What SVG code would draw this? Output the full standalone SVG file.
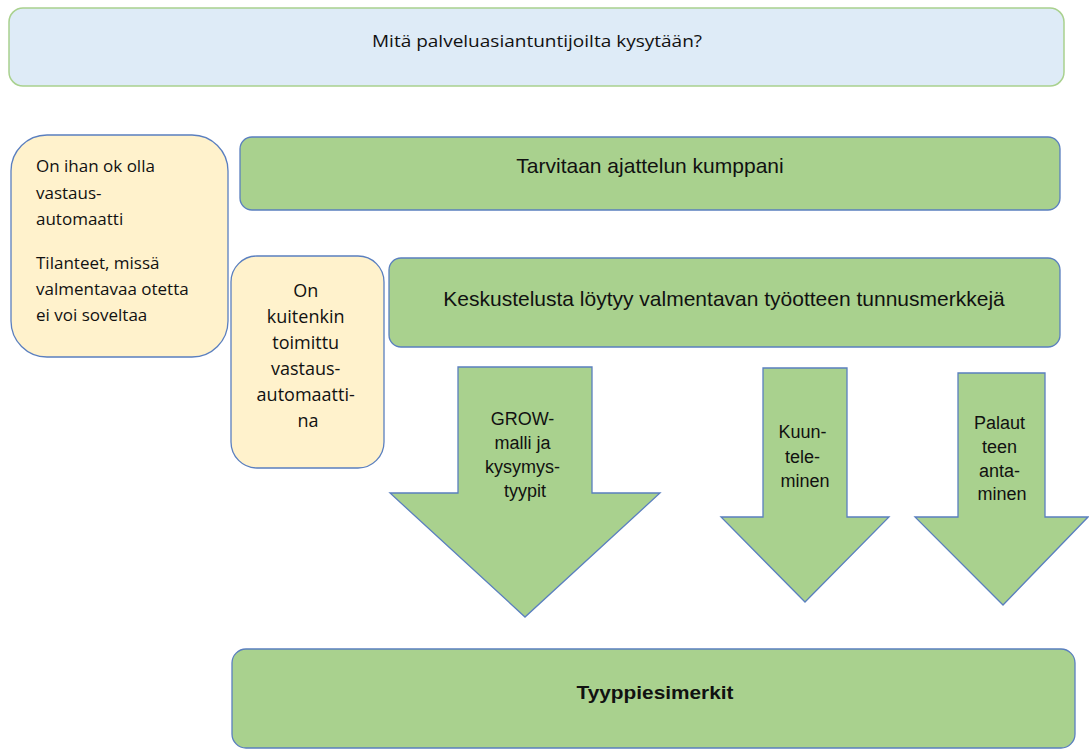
<svg xmlns="http://www.w3.org/2000/svg" width="1089" height="749" viewBox="0 0 1089 749">
<style>
.g{fill:#a9d18e;stroke:#5a7fbf;stroke-width:1.3}
.y{fill:#fff2cc;stroke:#5a7fbf;stroke-width:1.3}
.t{font-family:"Liberation Sans",Arial,sans-serif;fill:#111}
.s{font-family:"Open Sans","Noto Sans",sans-serif;fill:#111}
</style>
<rect width="1089" height="749" fill="#fff"/>
<g id="top">
<rect x="9" y="8" width="1055" height="78" rx="14" fill="#deebf7" stroke="#a9d18e" stroke-width="1.5"/>
<text class="s" x="537" y="47" font-size="17" text-anchor="middle" textLength="330" lengthAdjust="spacingAndGlyphs">Mitä palveluasiantuntijoilta kysytään?</text>
</g>
<g id="yellow1">
<rect class="y" x="11" y="135" width="217" height="222" rx="36"/>
<text class="s" font-size="17">
<tspan x="36" y="172">On ihan ok olla</tspan>
<tspan x="36" y="199">vastaus-</tspan>
<tspan x="36" y="225">automaatti</tspan>
<tspan x="36" y="269">Tilanteet, missä</tspan>
<tspan x="36" y="295">valmentavaa otetta</tspan>
<tspan x="36" y="321">ei voi soveltaa</tspan>
</text>
</g>
<g id="yellow2">
<rect class="y" x="231" y="256" width="153" height="212" rx="26"/>
<text class="s" font-size="18" text-anchor="middle">
<tspan x="308" y="297">On</tspan>
<tspan x="308" y="323">kuitenkin</tspan>
<tspan x="308" y="349">toimittu</tspan>
<tspan x="308" y="375">vastaus-</tspan>
<tspan x="308" y="401">automaatti-</tspan>
<tspan x="308" y="427">na</tspan>
</text>
</g>
<g id="partner">
<rect class="g" x="240" y="137" width="820" height="73" rx="12"/>
<text class="t" x="650" y="173" font-size="21" text-anchor="middle">Tarvitaan ajattelun kumppani</text>
</g>
<g id="discussion">
<rect class="g" x="389" y="258" width="671" height="89" rx="12"/>
<text class="t" x="724" y="306" font-size="21" text-anchor="middle">Keskustelusta löytyy valmentavan työotteen tunnusmerkkejä</text>
</g>
<g id="grow">
<polygon class="g" points="458,367 592,367 592,493 660,493 525,617 390,493 458,493"/>
<text class="t" font-size="18" text-anchor="middle">
<tspan x="525" y="425">GROW-</tspan>
<tspan x="525" y="449">malli ja</tspan>
<tspan x="525" y="473">kysymys-</tspan>
<tspan x="525" y="497">tyypit</tspan>
</text>
</g>
<g id="listening">
<polygon class="g" points="763,368 847,368 847,517 889,517 805,602 721,517 763,517"/>
<text class="t" font-size="18" text-anchor="middle">
<tspan x="805" y="438">Kuun-</tspan>
<tspan x="805" y="463">tele-</tspan>
<tspan x="805" y="487">minen</tspan>
</text>
</g>
<g id="feedback">
<polygon class="g" points="958,373 1045,373 1045,517 1088,517 1003,605 915,517 958,517"/>
<text class="t" font-size="18" text-anchor="middle">
<tspan x="1002" y="429">Palaut</tspan>
<tspan x="1002" y="453">teen</tspan>
<tspan x="1002" y="477">anta-</tspan>
<tspan x="1002" y="500">minen</tspan>
</text>
</g>
<g id="examples">
<rect class="g" x="232" y="649" width="843" height="99" rx="14"/>
<text class="t" x="655" y="699" font-size="19" font-weight="bold" text-anchor="middle" textLength="157" lengthAdjust="spacingAndGlyphs">Tyyppiesimerkit</text>
</g>
<g id="connectors"/>
</svg>
